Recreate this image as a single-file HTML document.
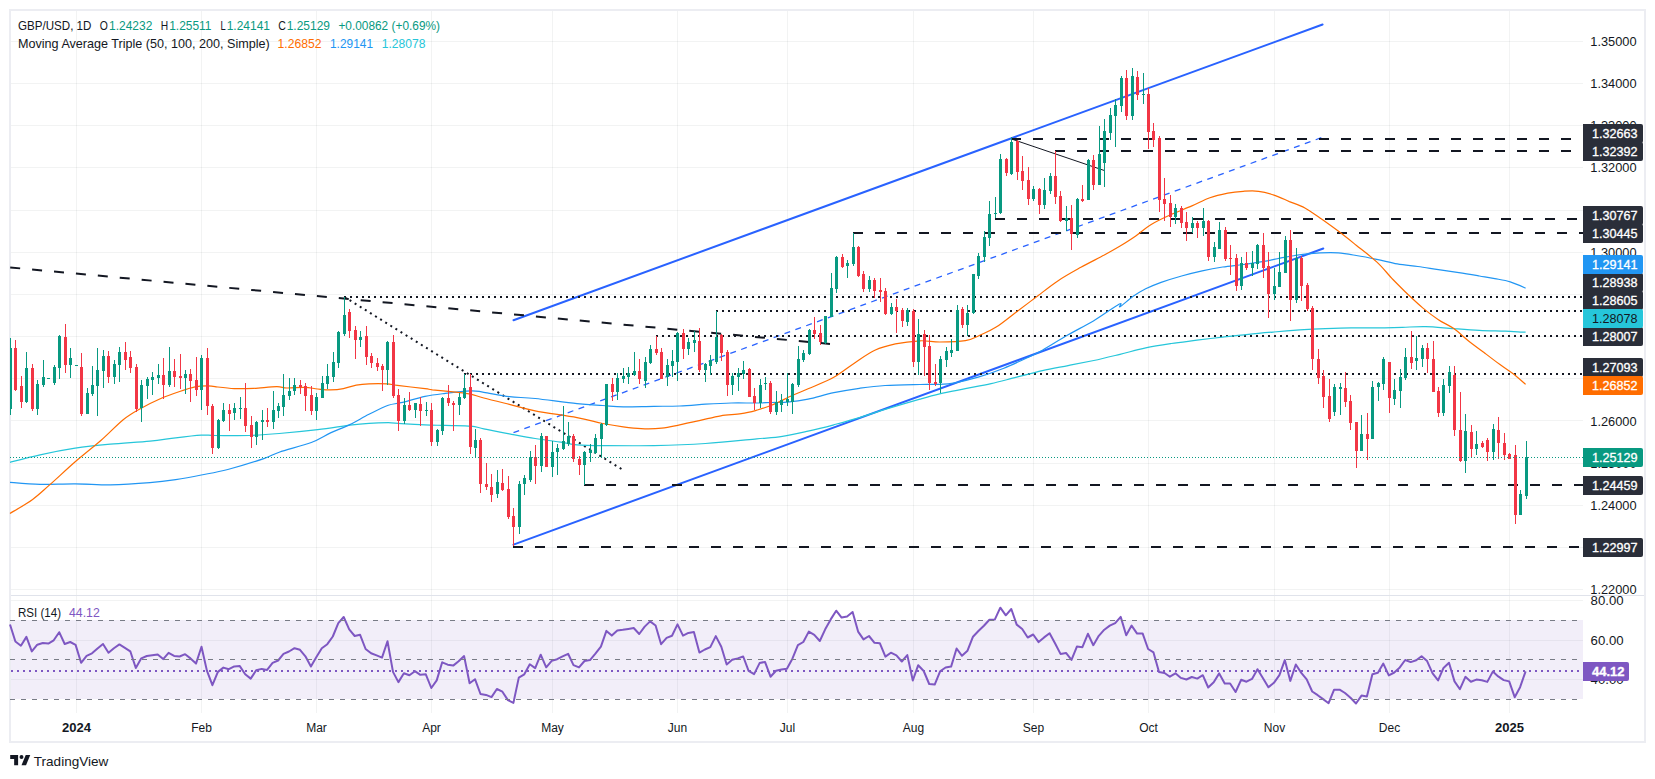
<!DOCTYPE html>
<html><head><meta charset="utf-8"><title>GBP/USD 1D</title>
<style>html,body{margin:0;padding:0;background:#fff;}svg{display:block}</style></head>
<body><svg width="1655" height="779" viewBox="0 0 1655 779"><g fill="#2a2e39" fill-opacity="0.06" shape-rendering="crispEdges"><rect x="11" y="41" width="1572" height="1"/><rect x="11" y="83" width="1572" height="1"/><rect x="11" y="125" width="1572" height="1"/><rect x="11" y="167" width="1572" height="1"/><rect x="11" y="210" width="1572" height="1"/><rect x="11" y="252" width="1572" height="1"/><rect x="11" y="294" width="1572" height="1"/><rect x="11" y="336" width="1572" height="1"/><rect x="11" y="378" width="1572" height="1"/><rect x="11" y="420" width="1572" height="1"/><rect x="11" y="463" width="1572" height="1"/><rect x="11" y="505" width="1572" height="1"/><rect x="11" y="547" width="1572" height="1"/><rect x="11" y="589" width="1572" height="1"/><rect x="11" y="600" width="1572" height="1"/><rect x="11" y="640" width="1572" height="1"/><rect x="11" y="679" width="1572" height="1"/><rect x="76" y="11" width="1" height="702"/><rect x="201" y="11" width="1" height="702"/><rect x="316" y="11" width="1" height="702"/><rect x="431" y="11" width="1" height="702"/><rect x="552" y="11" width="1" height="702"/><rect x="677" y="11" width="1" height="702"/><rect x="787" y="11" width="1" height="702"/><rect x="913" y="11" width="1" height="702"/><rect x="1033" y="11" width="1" height="702"/><rect x="1148" y="11" width="1" height="702"/><rect x="1274" y="11" width="1" height="702"/><rect x="1389" y="11" width="1" height="702"/><rect x="1509" y="11" width="1" height="702"/></g>
<path d="M9 9H1646V743H9Z M11 11V741H1644V11Z" fill="#ecedf2" fill-rule="evenodd" shape-rendering="crispEdges"/>
<rect x="11" y="620" width="1572" height="79" fill="#7e57c2" fill-opacity="0.1"/>
<line x1="513.5" y1="544.6" x2="1323.3" y2="248.5" stroke="#2962ff" stroke-width="2" stroke-linecap="round"/>
<line x1="513.5" y1="320.2" x2="1322.6" y2="24.5" stroke="#2962ff" stroke-width="2" stroke-linecap="round"/>
<line x1="513.5" y1="432.6" x2="1321.3" y2="137.7" stroke="#2962ff" stroke-width="1.3" stroke-dasharray="6 5.54" />
<line x1="-11.7" y1="265.4" x2="830.0" y2="343.9" stroke="#131722" stroke-width="2" stroke-dasharray="10 12" />
<line x1="1011.5" y1="139.0" x2="1104.3" y2="170.5" stroke="#131722" stroke-width="1" />
<line x1="344.0" y1="297.0" x2="1583.0" y2="297.0" stroke="#131722" stroke-width="2" stroke-dasharray="2 4" shape-rendering="crispEdges"/>
<line x1="716.0" y1="311.0" x2="1583.0" y2="311.0" stroke="#131722" stroke-width="2" stroke-dasharray="2 4" shape-rendering="crispEdges"/>
<line x1="656.0" y1="336.0" x2="1583.0" y2="336.0" stroke="#131722" stroke-width="2" stroke-dasharray="2 4" shape-rendering="crispEdges"/>
<line x1="464.0" y1="374.0" x2="1583.0" y2="374.0" stroke="#131722" stroke-width="2" stroke-dasharray="2 4" shape-rendering="crispEdges"/>
<line x1="344.5" y1="297.0" x2="621.9" y2="469.3" stroke="#131722" stroke-width="2" stroke-dasharray="2 4" />
<line x1="1011.0" y1="139.0" x2="1583.0" y2="139.0" stroke="#131722" stroke-width="2" stroke-dasharray="10 12" shape-rendering="crispEdges"/>
<line x1="1055.0" y1="151.0" x2="1583.0" y2="151.0" stroke="#131722" stroke-width="2" stroke-dasharray="10 12" shape-rendering="crispEdges"/>
<line x1="995.0" y1="219.0" x2="1583.0" y2="219.0" stroke="#131722" stroke-width="2" stroke-dasharray="10 12" shape-rendering="crispEdges"/>
<line x1="853.0" y1="233.0" x2="1583.0" y2="233.0" stroke="#131722" stroke-width="2" stroke-dasharray="10 12" shape-rendering="crispEdges"/>
<line x1="584.0" y1="485.0" x2="1583.0" y2="485.0" stroke="#131722" stroke-width="2" stroke-dasharray="10 12" shape-rendering="crispEdges"/>
<line x1="513.0" y1="547.0" x2="1583.0" y2="547.0" stroke="#131722" stroke-width="2" stroke-dasharray="10 12" shape-rendering="crispEdges"/>
<path d="M10.0 462.3C15.0 461.0 29.3 457.1 40.1 454.8C51.0 452.4 63.5 450.0 75.2 448.2C86.9 446.5 97.9 445.4 110.3 444.2C122.8 443.0 139.1 442.2 150.0 441.1C160.9 440.0 167.1 438.8 175.7 437.8C184.2 436.8 194.8 435.6 201.3 435.2C207.9 434.8 206.9 435.4 215.0 435.5C223.1 435.5 239.0 435.8 249.7 435.5C260.4 435.1 267.8 434.5 279.2 433.5C290.5 432.6 305.9 431.1 317.7 429.7C329.5 428.3 341.2 426.3 349.8 425.2C358.3 424.1 362.6 423.7 369.0 423.3C375.5 422.8 383.0 422.6 388.3 422.6C393.6 422.7 395.0 423.3 401.1 423.7C407.3 424.0 417.7 424.6 425.0 424.9C432.4 425.2 437.6 425.2 445.3 425.4C452.9 425.7 464.5 425.7 470.9 426.2C477.3 426.8 477.3 427.5 483.8 428.8C490.2 430.1 500.9 432.3 509.4 433.9C518.0 435.5 526.6 437.2 535.1 438.5C543.7 439.9 553.8 441.1 560.8 442.1C567.8 443.2 570.0 444.2 577.0 444.8C584.0 445.4 589.9 445.5 602.7 445.6C615.5 445.7 636.9 445.9 654.0 445.6C671.2 445.2 688.3 444.6 705.4 443.5C722.5 442.4 743.9 440.1 756.7 438.9C769.6 437.7 773.9 437.6 782.4 436.3C791.0 435.1 799.5 433.1 808.1 431.2C816.6 429.3 825.2 427.1 833.8 424.8C842.3 422.5 850.9 420.2 859.4 417.6C868.0 415.0 875.0 412.5 885.1 409.4C895.2 406.3 910.9 401.7 920.0 399.1C929.1 396.5 932.2 395.6 939.7 393.8C947.3 392.1 956.8 390.4 965.4 388.7C973.9 387.0 982.5 385.5 991.1 383.6C999.6 381.6 1008.2 379.3 1016.7 377.2C1025.3 375.0 1033.9 372.7 1042.4 370.7C1051.0 368.8 1059.5 367.3 1068.1 365.6C1076.6 363.9 1085.1 362.3 1093.8 360.5C1102.4 358.6 1111.3 356.4 1120.0 354.3C1128.7 352.2 1137.1 349.7 1145.7 347.9C1154.2 346.1 1162.8 344.8 1171.3 343.5C1179.9 342.2 1188.5 341.3 1197.0 340.2C1205.6 339.1 1214.1 338.1 1222.7 337.1C1231.3 336.1 1239.8 335.1 1248.4 334.3C1256.9 333.4 1265.5 332.7 1274.0 332.0C1282.6 331.2 1291.2 330.5 1299.7 329.9C1308.3 329.4 1316.8 329.0 1325.4 328.6C1333.9 328.3 1342.5 328.0 1351.1 327.9C1359.6 327.7 1368.2 328.0 1376.7 327.9C1385.3 327.8 1394.3 327.6 1402.4 327.4C1410.5 327.1 1417.0 326.4 1425.5 326.6C1434.1 326.8 1444.8 328.0 1453.8 328.6C1462.7 329.3 1470.9 330.0 1479.4 330.4C1488.0 330.9 1497.4 330.9 1505.1 331.2C1512.8 331.5 1522.2 332.1 1525.6 332.2" fill="none" stroke="#26c6da" stroke-width="1.2"/>
<path d="M10.0 482.3C15.0 482.7 29.3 484.1 40.1 484.4C51.0 484.6 63.5 483.8 75.2 483.9C86.9 483.9 97.9 485.0 110.3 484.9C122.8 484.7 139.1 483.6 150.0 482.7C160.9 481.8 167.1 480.9 175.7 479.6C184.2 478.3 192.7 476.7 201.3 475.0C210.0 473.3 217.4 472.2 227.8 469.5C238.2 466.8 255.2 461.5 263.8 458.6C272.3 455.7 271.3 454.8 279.2 452.2C287.1 449.5 302.7 445.7 311.3 442.5C319.8 439.3 324.1 435.9 330.5 432.9C337.0 429.9 343.4 427.7 349.8 424.6C356.2 421.5 362.6 417.5 369.0 414.3C375.5 411.1 383.0 407.2 388.3 405.3C393.6 403.4 395.0 404.2 401.1 402.7C407.3 401.2 417.7 397.9 425.0 396.3C432.4 394.8 437.6 394.3 445.3 393.4C452.9 392.4 464.5 391.0 470.9 390.8C477.3 390.6 477.3 391.3 483.8 392.3C490.2 393.3 500.9 395.7 509.4 396.7C518.0 397.7 523.8 397.3 535.1 398.5C546.4 399.7 565.8 402.6 577.0 403.7C588.3 404.9 595.0 405.0 602.7 405.5C610.4 406.0 614.7 406.7 623.2 406.8C631.8 406.9 644.6 406.4 654.0 406.3C663.5 406.2 671.2 406.4 679.7 406.0C688.3 405.7 696.8 404.8 705.4 404.2C713.9 403.7 722.5 403.2 731.1 403.0C739.6 402.8 749.9 403.1 756.7 403.0C763.6 402.9 767.1 402.6 772.1 402.5C777.2 402.3 781.3 402.8 787.3 402.2C793.3 401.6 800.3 400.7 808.1 399.1C815.8 397.5 825.2 394.5 833.8 392.7C842.3 390.9 850.9 389.5 859.4 388.3C868.0 387.1 875.0 386.1 885.1 385.5C895.2 384.9 910.9 384.7 920.0 384.5C929.1 384.3 933.9 384.6 939.7 384.3C945.6 384.1 948.7 384.0 955.1 382.8C961.5 381.6 970.1 379.6 978.2 377.2C986.4 374.7 995.3 371.6 1003.9 368.2C1012.5 364.7 1023.2 359.6 1029.6 356.6C1036.0 353.6 1036.0 353.8 1042.4 350.2C1048.8 346.6 1059.5 339.7 1068.1 334.8C1076.6 329.9 1085.2 325.8 1093.8 320.7C1102.3 315.5 1115.1 306.3 1119.4 304.0C1123.8 301.7 1117.8 308.1 1120.0 306.8C1122.2 305.6 1128.6 299.5 1132.8 296.5C1137.1 293.6 1141.0 291.2 1145.7 288.8C1150.4 286.5 1155.1 284.6 1161.1 282.4C1167.1 280.3 1174.8 277.9 1181.6 276.0C1188.5 274.1 1195.3 272.4 1202.2 270.9C1209.0 269.4 1215.8 268.1 1222.7 267.0C1229.5 266.0 1236.4 265.4 1243.2 264.5C1250.1 263.5 1256.9 262.6 1263.8 261.4C1270.6 260.2 1277.5 258.5 1284.3 257.3C1291.2 256.1 1298.9 254.9 1304.9 254.2C1310.8 253.5 1314.7 253.1 1320.3 252.9C1325.8 252.7 1332.2 252.5 1338.2 252.9C1344.2 253.3 1349.8 254.4 1356.2 255.5C1362.6 256.5 1369.9 257.9 1376.7 259.3C1383.6 260.7 1390.4 262.7 1397.3 263.9C1404.1 265.1 1411.0 265.6 1417.8 266.5C1424.7 267.4 1431.5 268.6 1438.4 269.6C1445.2 270.6 1452.0 271.6 1458.9 272.7C1465.7 273.7 1473.4 275.0 1479.4 276.0C1485.4 277.0 1489.7 277.6 1494.8 278.6C1500.0 279.6 1505.1 280.3 1510.2 281.9C1515.4 283.5 1523.1 287.0 1525.6 288.1" fill="none" stroke="#2196f3" stroke-width="1.2"/>
<path d="M10.0 513.4C13.8 511.1 25.9 504.2 32.6 499.4C39.3 494.6 43.0 490.6 50.2 484.4C57.3 478.1 66.7 469.2 75.2 461.8C83.8 454.4 93.4 447.0 101.4 440.0C109.4 433.0 116.6 425.0 123.2 419.7C129.9 414.4 135.2 411.6 141.2 408.2C147.2 404.7 152.8 402.0 159.2 399.2C165.6 396.4 173.7 393.5 179.7 391.5C185.7 389.4 190.4 387.8 195.1 386.9C199.8 385.9 204.6 385.9 208.0 385.8C211.3 385.8 210.6 386.2 215.0 386.7C219.4 387.2 227.8 388.3 234.3 388.6C240.7 388.9 246.5 388.7 253.5 388.4C260.6 388.0 271.1 386.8 276.6 386.7C282.2 386.6 282.2 387.9 286.9 388.0C291.6 388.1 299.7 387.2 304.9 387.3C310.0 387.5 313.4 388.6 317.7 389.0C322.0 389.4 326.3 390.0 330.5 389.9C334.8 389.8 339.1 389.4 343.4 388.6C347.6 387.8 351.9 385.9 356.2 385.1C360.5 384.4 363.9 384.1 369.0 383.9C374.2 383.6 382.3 383.6 387.0 383.9C391.7 384.1 391.0 384.6 397.3 385.4C403.6 386.2 419.2 387.9 425.0 388.6C430.9 389.3 426.9 389.1 432.4 389.8C437.9 390.4 451.7 391.6 458.1 392.3C464.5 393.1 466.6 393.2 470.9 394.1C475.2 395.1 477.3 396.3 483.8 398.0C490.2 399.7 500.9 402.3 509.4 404.4C518.0 406.5 523.8 408.6 535.1 410.8C546.4 413.0 565.8 415.5 577.0 417.6C588.3 419.7 595.0 422.0 602.7 423.5C610.4 425.0 616.8 426.0 623.2 426.8C629.7 427.7 634.8 428.4 641.2 428.6C647.6 428.9 655.3 428.8 661.7 428.1C668.2 427.5 673.3 426.1 679.7 424.8C686.1 423.5 693.4 421.9 700.3 420.4C707.1 418.9 713.9 416.9 720.8 415.8C727.6 414.7 735.3 414.7 741.3 413.7C747.3 412.8 751.6 411.6 756.7 410.2C761.9 408.7 766.2 407.5 772.1 405.0C778.1 402.5 786.7 398.0 792.7 395.3C798.7 392.6 801.2 391.8 808.1 388.8C814.9 385.8 826.1 381.6 833.8 377.3C841.5 373.0 847.5 367.7 854.3 363.2C861.1 358.7 868.0 353.5 874.8 350.3C881.7 347.1 887.8 345.5 895.4 343.9C902.9 342.3 912.6 341.2 920.0 340.8C927.4 340.5 932.2 342.0 939.7 342.0C947.3 342.0 958.5 341.9 965.4 340.7C972.2 339.5 975.7 337.1 980.8 334.8C985.9 332.5 990.2 330.9 996.2 327.1C1002.2 323.2 1009.9 316.8 1016.7 311.7C1023.6 306.5 1030.4 301.4 1037.3 296.3C1044.1 291.1 1050.5 285.7 1057.8 280.9C1065.1 276.0 1073.2 271.6 1080.9 267.3C1088.7 263.0 1097.8 258.5 1104.3 255.0C1110.8 251.5 1114.5 249.4 1119.7 246.3C1124.9 243.1 1130.2 239.8 1135.4 236.2C1140.6 232.6 1144.8 228.3 1150.8 224.7C1156.8 221.0 1164.5 217.5 1171.3 214.4C1178.2 211.3 1185.5 208.7 1191.9 205.9C1198.3 203.1 1203.9 199.8 1209.9 197.7C1215.8 195.6 1222.3 194.2 1227.8 193.1C1233.4 192.0 1238.1 191.6 1243.2 191.3C1248.4 191.0 1253.5 190.6 1258.6 191.3C1263.8 191.9 1268.9 193.4 1274.0 195.1C1279.2 196.8 1284.3 199.4 1289.4 201.6C1294.6 203.7 1299.7 205.2 1304.9 208.0C1310.0 210.8 1314.7 214.4 1320.3 218.2C1325.8 222.1 1332.2 226.6 1338.2 231.1C1344.2 235.6 1349.8 240.1 1356.2 245.2C1362.6 250.3 1370.7 256.3 1376.7 261.9C1382.7 267.4 1387.0 273.2 1392.1 278.6C1397.3 283.9 1402.4 289.1 1407.5 294.0C1412.7 298.9 1417.8 303.8 1423.0 308.1C1428.1 312.4 1433.2 316.2 1438.4 319.7C1443.5 323.1 1448.6 325.0 1453.8 328.6C1458.9 332.3 1464.0 337.4 1469.2 341.5C1474.3 345.5 1479.4 349.2 1484.6 353.0C1489.7 356.9 1495.3 361.2 1500.0 364.6C1504.7 368.0 1508.5 370.3 1512.8 373.6C1517.1 376.9 1523.5 382.6 1525.6 384.4" fill="none" stroke="#ff6d00" stroke-width="1.2"/>
<g fill="#089981" shape-rendering="crispEdges"><rect x="10" y="338" width="1" height="77"/><rect x="10" y="348" width="2" height="61"/><rect x="26" y="352" width="1" height="51"/><rect x="25" y="368" width="3" height="34"/><rect x="37" y="380" width="1" height="35"/><rect x="36" y="384" width="3" height="25"/><rect x="43" y="360" width="1" height="27"/><rect x="42" y="377" width="3" height="8"/><rect x="48" y="378" width="1" height="1"/><rect x="47" y="378" width="3" height="1"/><rect x="54" y="365" width="1" height="20"/><rect x="53" y="367" width="3" height="16"/><rect x="59" y="335" width="1" height="44"/><rect x="58" y="336" width="3" height="32"/><rect x="70" y="348" width="1" height="30"/><rect x="69" y="358" width="3" height="7"/><rect x="76" y="365" width="1" height="1"/><rect x="75" y="365" width="3" height="1"/><rect x="87" y="388" width="1" height="26"/><rect x="86" y="393" width="3" height="21"/><rect x="92" y="366" width="1" height="30"/><rect x="91" y="385" width="3" height="9"/><rect x="97" y="348" width="1" height="68"/><rect x="96" y="370" width="3" height="16"/><rect x="103" y="350" width="1" height="38"/><rect x="102" y="356" width="3" height="15"/><rect x="114" y="360" width="1" height="24"/><rect x="113" y="364" width="3" height="13"/><rect x="119" y="347" width="1" height="35"/><rect x="118" y="352" width="3" height="13"/><rect x="141" y="380" width="1" height="42"/><rect x="140" y="385" width="3" height="23"/><rect x="147" y="377" width="1" height="22"/><rect x="146" y="379" width="3" height="7"/><rect x="152" y="372" width="1" height="23"/><rect x="151" y="377" width="3" height="3"/><rect x="158" y="364" width="1" height="20"/><rect x="157" y="375" width="3" height="3"/><rect x="169" y="347" width="1" height="40"/><rect x="168" y="371" width="3" height="14"/><rect x="185" y="370" width="1" height="24"/><rect x="184" y="374" width="3" height="4"/><rect x="201" y="355" width="1" height="55"/><rect x="200" y="358" width="3" height="32"/><rect x="218" y="419" width="1" height="30"/><rect x="217" y="420" width="3" height="28"/><rect x="223" y="403" width="1" height="19"/><rect x="222" y="410" width="3" height="11"/><rect x="234" y="403" width="1" height="17"/><rect x="233" y="408" width="3" height="5"/><rect x="240" y="397" width="1" height="22"/><rect x="239" y="408" width="3" height="1"/><rect x="256" y="421" width="1" height="24"/><rect x="255" y="422" width="3" height="15"/><rect x="262" y="410" width="1" height="30"/><rect x="261" y="420" width="3" height="2"/><rect x="273" y="391" width="1" height="38"/><rect x="272" y="410" width="3" height="12"/><rect x="278" y="403" width="1" height="15"/><rect x="277" y="406" width="3" height="5"/><rect x="283" y="374" width="1" height="42"/><rect x="282" y="395" width="3" height="12"/><rect x="289" y="378" width="1" height="22"/><rect x="288" y="391" width="3" height="5"/><rect x="294" y="378" width="1" height="17"/><rect x="293" y="385" width="3" height="6"/><rect x="316" y="393" width="1" height="27"/><rect x="315" y="397" width="3" height="14"/><rect x="322" y="376" width="1" height="22"/><rect x="321" y="383" width="3" height="15"/><rect x="327" y="364" width="1" height="25"/><rect x="326" y="376" width="3" height="8"/><rect x="333" y="352" width="1" height="30"/><rect x="332" y="362" width="3" height="15"/><rect x="338" y="331" width="1" height="37"/><rect x="337" y="332" width="3" height="31"/><rect x="344" y="297" width="1" height="39"/><rect x="343" y="315" width="3" height="19"/><rect x="360" y="331" width="1" height="16"/><rect x="359" y="337" width="3" height="3"/><rect x="387" y="341" width="1" height="44"/><rect x="386" y="342" width="3" height="28"/><rect x="404" y="398" width="1" height="26"/><rect x="403" y="405" width="3" height="16"/><rect x="415" y="403" width="1" height="15"/><rect x="414" y="403" width="3" height="7"/><rect x="426" y="402" width="1" height="14"/><rect x="425" y="410" width="3" height="1"/><rect x="437" y="429" width="1" height="17"/><rect x="436" y="430" width="3" height="12"/><rect x="442" y="397" width="1" height="38"/><rect x="441" y="398" width="3" height="33"/><rect x="459" y="393" width="1" height="22"/><rect x="458" y="397" width="3" height="8"/><rect x="464" y="374" width="1" height="25"/><rect x="463" y="388" width="3" height="10"/><rect x="475" y="429" width="1" height="28"/><rect x="474" y="440" width="3" height="8"/><rect x="497" y="470" width="1" height="28"/><rect x="496" y="482" width="3" height="12"/><rect x="519" y="481" width="1" height="53"/><rect x="518" y="484" width="3" height="43"/><rect x="524" y="475" width="1" height="20"/><rect x="523" y="478" width="3" height="6"/><rect x="530" y="451" width="1" height="31"/><rect x="529" y="457" width="3" height="23"/><rect x="541" y="433" width="1" height="39"/><rect x="540" y="436" width="3" height="30"/><rect x="552" y="441" width="1" height="36"/><rect x="551" y="452" width="3" height="15"/><rect x="557" y="444" width="1" height="31"/><rect x="556" y="448" width="3" height="4"/><rect x="563" y="406" width="1" height="44"/><rect x="562" y="441" width="3" height="8"/><rect x="568" y="422" width="1" height="24"/><rect x="567" y="436" width="3" height="8"/><rect x="584" y="451" width="1" height="34"/><rect x="583" y="452" width="3" height="13"/><rect x="590" y="444" width="1" height="18"/><rect x="589" y="450" width="3" height="3"/><rect x="595" y="434" width="1" height="20"/><rect x="594" y="438" width="3" height="15"/><rect x="601" y="423" width="1" height="35"/><rect x="600" y="424" width="3" height="15"/><rect x="606" y="384" width="1" height="42"/><rect x="605" y="384" width="3" height="41"/><rect x="617" y="373" width="1" height="27"/><rect x="616" y="378" width="3" height="14"/><rect x="623" y="368" width="1" height="15"/><rect x="622" y="376" width="3" height="3"/><rect x="628" y="367" width="1" height="17"/><rect x="627" y="373" width="3" height="4"/><rect x="634" y="352" width="1" height="24"/><rect x="633" y="371" width="3" height="4"/><rect x="645" y="357" width="1" height="31"/><rect x="644" y="362" width="3" height="19"/><rect x="650" y="345" width="1" height="19"/><rect x="649" y="349" width="3" height="14"/><rect x="667" y="359" width="1" height="27"/><rect x="666" y="365" width="3" height="12"/><rect x="672" y="350" width="1" height="27"/><rect x="671" y="361" width="3" height="5"/><rect x="677" y="332" width="1" height="49"/><rect x="676" y="333" width="3" height="29"/><rect x="688" y="338" width="1" height="17"/><rect x="687" y="342" width="3" height="7"/><rect x="694" y="331" width="1" height="21"/><rect x="693" y="340" width="3" height="3"/><rect x="705" y="363" width="1" height="19"/><rect x="704" y="364" width="3" height="6"/><rect x="710" y="355" width="1" height="20"/><rect x="709" y="360" width="3" height="6"/><rect x="716" y="311" width="1" height="53"/><rect x="715" y="337" width="3" height="25"/><rect x="732" y="373" width="1" height="22"/><rect x="731" y="376" width="3" height="9"/><rect x="738" y="368" width="1" height="23"/><rect x="737" y="373" width="3" height="4"/><rect x="743" y="361" width="1" height="18"/><rect x="742" y="370" width="3" height="4"/><rect x="760" y="379" width="1" height="29"/><rect x="759" y="385" width="3" height="18"/><rect x="765" y="377" width="1" height="13"/><rect x="764" y="383" width="3" height="1"/><rect x="776" y="391" width="1" height="24"/><rect x="775" y="402" width="3" height="10"/><rect x="781" y="394" width="1" height="18"/><rect x="780" y="400" width="3" height="5"/><rect x="787" y="373" width="1" height="33"/><rect x="786" y="399" width="3" height="3"/><rect x="792" y="383" width="1" height="31"/><rect x="791" y="384" width="3" height="18"/><rect x="798" y="346" width="1" height="41"/><rect x="797" y="359" width="3" height="26"/><rect x="803" y="350" width="1" height="12"/><rect x="802" y="353" width="3" height="7"/><rect x="809" y="329" width="1" height="26"/><rect x="808" y="330" width="3" height="24"/><rect x="825" y="316" width="1" height="28"/><rect x="824" y="316" width="3" height="27"/><rect x="831" y="273" width="1" height="44"/><rect x="830" y="288" width="3" height="29"/><rect x="836" y="256" width="1" height="37"/><rect x="835" y="257" width="3" height="32"/><rect x="847" y="260" width="1" height="18"/><rect x="846" y="263" width="3" height="3"/><rect x="853" y="233" width="1" height="33"/><rect x="852" y="247" width="3" height="17"/><rect x="869" y="276" width="1" height="16"/><rect x="868" y="280" width="3" height="9"/><rect x="891" y="303" width="1" height="12"/><rect x="890" y="307" width="3" height="7"/><rect x="907" y="308" width="1" height="18"/><rect x="906" y="310" width="3" height="12"/><rect x="918" y="319" width="1" height="56"/><rect x="917" y="334" width="3" height="28"/><rect x="940" y="356" width="1" height="37"/><rect x="939" y="359" width="3" height="24"/><rect x="946" y="347" width="1" height="20"/><rect x="945" y="351" width="3" height="9"/><rect x="951" y="339" width="1" height="18"/><rect x="950" y="350" width="3" height="3"/><rect x="957" y="305" width="1" height="46"/><rect x="956" y="310" width="3" height="41"/><rect x="967" y="305" width="1" height="31"/><rect x="966" y="313" width="3" height="12"/><rect x="973" y="274" width="1" height="40"/><rect x="972" y="274" width="3" height="39"/><rect x="978" y="253" width="1" height="26"/><rect x="977" y="256" width="3" height="20"/><rect x="984" y="231" width="1" height="31"/><rect x="983" y="237" width="3" height="20"/><rect x="989" y="201" width="1" height="45"/><rect x="988" y="214" width="3" height="24"/><rect x="995" y="197" width="1" height="21"/><rect x="994" y="213" width="3" height="1"/><rect x="1000" y="154" width="1" height="60"/><rect x="999" y="159" width="3" height="54"/><rect x="1011" y="137" width="1" height="38"/><rect x="1010" y="142" width="3" height="32"/><rect x="1033" y="186" width="1" height="15"/><rect x="1032" y="189" width="3" height="10"/><rect x="1044" y="178" width="1" height="31"/><rect x="1043" y="190" width="3" height="15"/><rect x="1050" y="173" width="1" height="21"/><rect x="1049" y="176" width="3" height="15"/><rect x="1066" y="206" width="1" height="25"/><rect x="1065" y="218" width="3" height="3"/><rect x="1077" y="198" width="1" height="40"/><rect x="1076" y="199" width="3" height="36"/><rect x="1088" y="159" width="1" height="41"/><rect x="1087" y="160" width="3" height="40"/><rect x="1099" y="126" width="1" height="59"/><rect x="1098" y="154" width="3" height="31"/><rect x="1104" y="119" width="1" height="68"/><rect x="1103" y="131" width="3" height="32"/><rect x="1110" y="108" width="1" height="32"/><rect x="1109" y="115" width="3" height="18"/><rect x="1115" y="99" width="1" height="48"/><rect x="1114" y="105" width="3" height="11"/><rect x="1121" y="76" width="1" height="36"/><rect x="1120" y="78" width="3" height="28"/><rect x="1132" y="68" width="1" height="52"/><rect x="1131" y="76" width="3" height="40"/><rect x="1143" y="73" width="1" height="31"/><rect x="1142" y="94" width="3" height="1"/><rect x="1175" y="204" width="1" height="20"/><rect x="1174" y="208" width="3" height="9"/><rect x="1192" y="217" width="1" height="16"/><rect x="1191" y="223" width="3" height="5"/><rect x="1203" y="208" width="1" height="28"/><rect x="1202" y="221" width="3" height="7"/><rect x="1214" y="242" width="1" height="20"/><rect x="1213" y="247" width="3" height="10"/><rect x="1219" y="222" width="1" height="27"/><rect x="1218" y="230" width="3" height="19"/><rect x="1241" y="257" width="1" height="33"/><rect x="1240" y="263" width="3" height="23"/><rect x="1252" y="251" width="1" height="25"/><rect x="1251" y="263" width="3" height="5"/><rect x="1257" y="244" width="1" height="25"/><rect x="1256" y="245" width="3" height="19"/><rect x="1274" y="268" width="1" height="32"/><rect x="1273" y="286" width="3" height="8"/><rect x="1279" y="252" width="1" height="35"/><rect x="1278" y="272" width="3" height="15"/><rect x="1285" y="236" width="1" height="37"/><rect x="1284" y="240" width="3" height="33"/><rect x="1296" y="248" width="1" height="55"/><rect x="1295" y="258" width="3" height="42"/><rect x="1334" y="384" width="1" height="32"/><rect x="1333" y="387" width="3" height="25"/><rect x="1340" y="383" width="1" height="32"/><rect x="1339" y="387" width="3" height="2"/><rect x="1361" y="415" width="1" height="36"/><rect x="1360" y="434" width="3" height="17"/><rect x="1372" y="381" width="1" height="58"/><rect x="1371" y="387" width="3" height="52"/><rect x="1378" y="382" width="1" height="19"/><rect x="1377" y="383" width="3" height="4"/><rect x="1383" y="357" width="1" height="33"/><rect x="1382" y="359" width="3" height="25"/><rect x="1394" y="379" width="1" height="26"/><rect x="1393" y="390" width="3" height="9"/><rect x="1400" y="369" width="1" height="39"/><rect x="1399" y="377" width="3" height="14"/><rect x="1405" y="348" width="1" height="32"/><rect x="1404" y="357" width="3" height="21"/><rect x="1416" y="336" width="1" height="34"/><rect x="1415" y="358" width="3" height="3"/><rect x="1422" y="345" width="1" height="22"/><rect x="1421" y="348" width="3" height="11"/><rect x="1443" y="379" width="1" height="37"/><rect x="1442" y="385" width="3" height="28"/><rect x="1449" y="366" width="1" height="27"/><rect x="1448" y="372" width="3" height="14"/><rect x="1465" y="414" width="1" height="59"/><rect x="1464" y="431" width="3" height="30"/><rect x="1476" y="431" width="1" height="24"/><rect x="1475" y="444" width="3" height="5"/><rect x="1493" y="424" width="1" height="36"/><rect x="1492" y="429" width="3" height="23"/><rect x="1520" y="490" width="1" height="25"/><rect x="1519" y="494" width="3" height="21"/><rect x="1526" y="441" width="1" height="58"/><rect x="1525" y="457" width="3" height="39"/></g>
<g fill="#f23645" shape-rendering="crispEdges"><rect x="15" y="340" width="1" height="51"/><rect x="14" y="348" width="3" height="42"/><rect x="21" y="376" width="1" height="32"/><rect x="20" y="386" width="3" height="16"/><rect x="32" y="364" width="1" height="47"/><rect x="31" y="368" width="3" height="41"/><rect x="65" y="324" width="1" height="49"/><rect x="64" y="337" width="3" height="28"/><rect x="81" y="353" width="1" height="63"/><rect x="80" y="367" width="3" height="47"/><rect x="108" y="351" width="1" height="32"/><rect x="107" y="356" width="3" height="21"/><rect x="125" y="342" width="1" height="28"/><rect x="124" y="352" width="3" height="8"/><rect x="130" y="351" width="1" height="22"/><rect x="129" y="357" width="3" height="11"/><rect x="136" y="364" width="1" height="48"/><rect x="135" y="367" width="3" height="42"/><rect x="163" y="358" width="1" height="41"/><rect x="162" y="375" width="3" height="10"/><rect x="174" y="359" width="1" height="28"/><rect x="173" y="371" width="3" height="6"/><rect x="180" y="354" width="1" height="35"/><rect x="179" y="376" width="3" height="2"/><rect x="190" y="369" width="1" height="33"/><rect x="189" y="374" width="3" height="7"/><rect x="196" y="357" width="1" height="39"/><rect x="195" y="380" width="3" height="10"/><rect x="207" y="348" width="1" height="67"/><rect x="206" y="358" width="3" height="48"/><rect x="212" y="404" width="1" height="50"/><rect x="211" y="406" width="3" height="42"/><rect x="229" y="404" width="1" height="27"/><rect x="228" y="410" width="3" height="4"/><rect x="245" y="383" width="1" height="49"/><rect x="244" y="408" width="3" height="18"/><rect x="251" y="416" width="1" height="32"/><rect x="250" y="425" width="3" height="12"/><rect x="267" y="408" width="1" height="19"/><rect x="266" y="420" width="3" height="2"/><rect x="300" y="380" width="1" height="14"/><rect x="299" y="385" width="3" height="2"/><rect x="305" y="383" width="1" height="28"/><rect x="304" y="386" width="3" height="10"/><rect x="311" y="386" width="1" height="29"/><rect x="310" y="395" width="3" height="16"/><rect x="349" y="309" width="1" height="29"/><rect x="348" y="312" width="3" height="19"/><rect x="355" y="326" width="1" height="33"/><rect x="354" y="330" width="3" height="10"/><rect x="366" y="326" width="1" height="39"/><rect x="365" y="336" width="3" height="21"/><rect x="371" y="353" width="1" height="15"/><rect x="370" y="356" width="3" height="7"/><rect x="377" y="358" width="1" height="13"/><rect x="376" y="363" width="3" height="4"/><rect x="382" y="364" width="1" height="27"/><rect x="381" y="366" width="3" height="4"/><rect x="393" y="335" width="1" height="63"/><rect x="392" y="342" width="3" height="54"/><rect x="398" y="389" width="1" height="42"/><rect x="397" y="395" width="3" height="26"/><rect x="409" y="392" width="1" height="19"/><rect x="408" y="405" width="3" height="5"/><rect x="420" y="397" width="1" height="29"/><rect x="419" y="404" width="3" height="7"/><rect x="431" y="403" width="1" height="43"/><rect x="430" y="410" width="3" height="32"/><rect x="448" y="385" width="1" height="21"/><rect x="447" y="398" width="3" height="5"/><rect x="453" y="401" width="1" height="30"/><rect x="452" y="403" width="3" height="2"/><rect x="470" y="374" width="1" height="80"/><rect x="469" y="387" width="3" height="60"/><rect x="480" y="438" width="1" height="55"/><rect x="479" y="440" width="3" height="44"/><rect x="486" y="463" width="1" height="27"/><rect x="485" y="484" width="3" height="3"/><rect x="491" y="474" width="1" height="28"/><rect x="490" y="487" width="3" height="8"/><rect x="502" y="469" width="1" height="22"/><rect x="501" y="483" width="3" height="7"/><rect x="508" y="476" width="1" height="43"/><rect x="507" y="489" width="3" height="28"/><rect x="513" y="508" width="1" height="38"/><rect x="512" y="516" width="3" height="11"/><rect x="535" y="445" width="1" height="39"/><rect x="534" y="457" width="3" height="9"/><rect x="546" y="436" width="1" height="31"/><rect x="545" y="436" width="3" height="31"/><rect x="573" y="434" width="1" height="28"/><rect x="572" y="436" width="3" height="23"/><rect x="579" y="456" width="1" height="19"/><rect x="578" y="459" width="3" height="6"/><rect x="612" y="378" width="1" height="23"/><rect x="611" y="384" width="3" height="8"/><rect x="639" y="359" width="1" height="25"/><rect x="638" y="371" width="3" height="8"/><rect x="656" y="336" width="1" height="19"/><rect x="655" y="349" width="3" height="4"/><rect x="661" y="348" width="1" height="31"/><rect x="660" y="352" width="3" height="27"/><rect x="683" y="329" width="1" height="30"/><rect x="682" y="333" width="3" height="16"/><rect x="699" y="328" width="1" height="44"/><rect x="698" y="341" width="3" height="29"/><rect x="721" y="334" width="1" height="27"/><rect x="720" y="335" width="3" height="18"/><rect x="727" y="350" width="1" height="46"/><rect x="726" y="352" width="3" height="33"/><rect x="749" y="368" width="1" height="29"/><rect x="748" y="369" width="3" height="28"/><rect x="754" y="388" width="1" height="22"/><rect x="753" y="396" width="3" height="7"/><rect x="770" y="381" width="1" height="33"/><rect x="769" y="383" width="3" height="29"/><rect x="814" y="317" width="1" height="22"/><rect x="813" y="330" width="3" height="4"/><rect x="820" y="325" width="1" height="20"/><rect x="819" y="333" width="3" height="9"/><rect x="842" y="254" width="1" height="14"/><rect x="841" y="257" width="3" height="10"/><rect x="858" y="246" width="1" height="31"/><rect x="857" y="247" width="3" height="29"/><rect x="863" y="271" width="1" height="21"/><rect x="862" y="274" width="3" height="15"/><rect x="874" y="278" width="1" height="20"/><rect x="873" y="280" width="3" height="11"/><rect x="880" y="278" width="1" height="24"/><rect x="879" y="290" width="3" height="2"/><rect x="885" y="288" width="1" height="27"/><rect x="884" y="291" width="3" height="23"/><rect x="896" y="299" width="1" height="34"/><rect x="895" y="307" width="3" height="4"/><rect x="902" y="308" width="1" height="19"/><rect x="901" y="310" width="3" height="11"/><rect x="913" y="309" width="1" height="58"/><rect x="912" y="311" width="3" height="51"/><rect x="924" y="330" width="1" height="46"/><rect x="923" y="334" width="3" height="13"/><rect x="929" y="335" width="1" height="55"/><rect x="928" y="346" width="3" height="37"/><rect x="935" y="364" width="1" height="22"/><rect x="934" y="382" width="3" height="2"/><rect x="962" y="307" width="1" height="21"/><rect x="961" y="309" width="3" height="16"/><rect x="1006" y="158" width="1" height="18"/><rect x="1005" y="159" width="3" height="14"/><rect x="1017" y="140" width="1" height="40"/><rect x="1016" y="141" width="3" height="31"/><rect x="1022" y="156" width="1" height="34"/><rect x="1021" y="171" width="3" height="10"/><rect x="1028" y="167" width="1" height="38"/><rect x="1027" y="180" width="3" height="19"/><rect x="1039" y="188" width="1" height="26"/><rect x="1038" y="189" width="3" height="16"/><rect x="1055" y="151" width="1" height="53"/><rect x="1054" y="176" width="3" height="21"/><rect x="1060" y="191" width="1" height="31"/><rect x="1059" y="196" width="3" height="25"/><rect x="1071" y="205" width="1" height="45"/><rect x="1070" y="218" width="3" height="16"/><rect x="1082" y="185" width="1" height="17"/><rect x="1081" y="199" width="3" height="2"/><rect x="1093" y="155" width="1" height="35"/><rect x="1092" y="160" width="3" height="25"/><rect x="1126" y="70" width="1" height="50"/><rect x="1125" y="78" width="3" height="38"/><rect x="1137" y="71" width="1" height="29"/><rect x="1136" y="77" width="3" height="18"/><rect x="1148" y="88" width="1" height="61"/><rect x="1147" y="94" width="3" height="38"/><rect x="1153" y="123" width="1" height="24"/><rect x="1152" y="131" width="3" height="9"/><rect x="1159" y="136" width="1" height="76"/><rect x="1158" y="138" width="3" height="62"/><rect x="1164" y="178" width="1" height="43"/><rect x="1163" y="199" width="3" height="5"/><rect x="1170" y="195" width="1" height="32"/><rect x="1169" y="203" width="3" height="14"/><rect x="1181" y="206" width="1" height="22"/><rect x="1180" y="208" width="3" height="15"/><rect x="1186" y="212" width="1" height="29"/><rect x="1185" y="222" width="3" height="6"/><rect x="1197" y="221" width="1" height="17"/><rect x="1196" y="223" width="3" height="5"/><rect x="1208" y="220" width="1" height="41"/><rect x="1207" y="221" width="3" height="36"/><rect x="1225" y="227" width="1" height="34"/><rect x="1224" y="230" width="3" height="29"/><rect x="1230" y="245" width="1" height="30"/><rect x="1229" y="258" width="3" height="1"/><rect x="1236" y="254" width="1" height="37"/><rect x="1235" y="258" width="3" height="28"/><rect x="1246" y="252" width="1" height="18"/><rect x="1245" y="263" width="3" height="5"/><rect x="1263" y="233" width="1" height="45"/><rect x="1262" y="245" width="3" height="23"/><rect x="1268" y="252" width="1" height="66"/><rect x="1267" y="266" width="3" height="28"/><rect x="1290" y="230" width="1" height="91"/><rect x="1289" y="240" width="3" height="60"/><rect x="1301" y="256" width="1" height="45"/><rect x="1300" y="258" width="3" height="28"/><rect x="1307" y="283" width="1" height="28"/><rect x="1306" y="285" width="3" height="24"/><rect x="1312" y="306" width="1" height="64"/><rect x="1311" y="308" width="3" height="51"/><rect x="1318" y="349" width="1" height="35"/><rect x="1317" y="359" width="3" height="19"/><rect x="1323" y="370" width="1" height="38"/><rect x="1322" y="376" width="3" height="21"/><rect x="1329" y="379" width="1" height="43"/><rect x="1328" y="396" width="3" height="23"/><rect x="1345" y="372" width="1" height="35"/><rect x="1344" y="388" width="3" height="14"/><rect x="1350" y="395" width="1" height="35"/><rect x="1349" y="401" width="3" height="22"/><rect x="1356" y="422" width="1" height="46"/><rect x="1355" y="422" width="3" height="29"/><rect x="1367" y="413" width="1" height="47"/><rect x="1366" y="434" width="3" height="5"/><rect x="1389" y="362" width="1" height="51"/><rect x="1388" y="362" width="3" height="36"/><rect x="1411" y="331" width="1" height="38"/><rect x="1410" y="357" width="3" height="6"/><rect x="1427" y="343" width="1" height="30"/><rect x="1426" y="348" width="3" height="11"/><rect x="1433" y="341" width="1" height="51"/><rect x="1432" y="359" width="3" height="33"/><rect x="1438" y="387" width="1" height="30"/><rect x="1437" y="391" width="3" height="22"/><rect x="1454" y="366" width="1" height="70"/><rect x="1453" y="375" width="3" height="55"/><rect x="1460" y="392" width="1" height="70"/><rect x="1459" y="430" width="3" height="31"/><rect x="1471" y="425" width="1" height="33"/><rect x="1470" y="432" width="3" height="17"/><rect x="1482" y="441" width="1" height="7"/><rect x="1481" y="443" width="3" height="4"/><rect x="1487" y="438" width="1" height="23"/><rect x="1486" y="440" width="3" height="12"/><rect x="1498" y="417" width="1" height="42"/><rect x="1497" y="430" width="3" height="13"/><rect x="1504" y="433" width="1" height="27"/><rect x="1503" y="443" width="3" height="12"/><rect x="1509" y="453" width="1" height="6"/><rect x="1508" y="454" width="3" height="5"/><rect x="1515" y="445" width="1" height="79"/><rect x="1514" y="455" width="3" height="60"/></g>
<line x1="10" y1="457.5" x2="1583" y2="457.5" stroke="#089981" stroke-width="1" stroke-dasharray="1 2" shape-rendering="crispEdges"/>
<polyline points="10.0,624.5 15.4,641.5 20.9,645.7 26.4,636.9 31.8,651.4 37.3,644.7 42.8,643.0 48.3,643.6 53.7,640.3 59.2,632.2 64.7,644.0 70.2,642.0 75.6,644.9 81.1,662.8 86.6,655.8 92.0,653.3 97.5,648.5 103.0,644.0 108.5,652.7 113.9,648.2 119.4,644.4 124.9,647.8 130.3,651.3 135.8,668.0 141.3,658.3 146.8,656.0 152.2,655.3 157.7,654.5 163.2,659.1 168.6,652.9 174.1,655.9 179.6,656.5 185.1,654.2 190.5,658.4 196.0,663.6 201.5,646.7 206.9,670.6 212.4,685.2 217.9,671.9 223.4,667.6 228.8,669.2 234.3,666.4 239.8,666.1 245.2,674.2 250.7,678.6 256.2,670.3 261.7,668.9 267.1,669.9 272.6,662.8 278.1,660.5 283.5,653.9 289.0,651.5 294.5,648.2 300.0,649.8 305.4,656.3 310.9,666.5 316.4,657.0 321.8,648.3 327.3,644.2 332.8,636.5 338.3,623.1 343.7,617.0 349.2,629.4 354.7,636.0 360.1,634.8 365.6,649.0 371.1,653.2 376.6,655.4 382.0,657.6 387.5,641.3 393.0,671.9 398.4,682.1 403.9,673.2 409.4,675.2 414.9,671.2 420.3,674.8 425.8,674.3 431.3,688.0 436.7,680.4 442.2,662.3 447.7,664.7 453.2,665.6 458.6,661.2 464.1,656.1 469.6,683.2 475.0,679.2 480.5,694.0 486.0,694.9 491.5,697.1 496.9,689.0 502.4,691.7 507.9,700.1 513.4,702.9 518.8,677.6 524.3,674.3 529.8,664.3 535.2,668.1 540.7,654.7 546.2,667.3 551.7,660.9 557.1,659.2 562.6,656.4 568.1,653.8 573.5,665.1 579.0,667.4 584.5,661.0 590.0,660.1 595.4,653.7 600.9,646.6 606.4,630.9 611.8,635.6 617.3,630.5 622.8,629.8 628.3,628.9 633.7,628.0 639.2,634.0 644.7,626.6 650.1,621.4 655.6,625.5 661.1,644.2 666.6,637.9 672.0,635.8 677.5,624.4 683.0,635.6 688.4,632.9 693.9,632.0 699.4,652.6 704.9,649.5 710.3,647.1 715.8,636.1 721.3,646.7 726.7,664.5 732.2,659.8 737.7,658.4 743.2,656.5 748.6,670.9 754.1,674.1 759.6,663.1 765.0,661.9 770.5,676.7 776.0,670.7 781.5,669.5 786.9,668.7 792.4,658.7 797.9,645.2 803.3,642.0 808.8,631.6 814.3,634.8 819.8,641.0 825.2,629.3 830.7,619.4 836.2,610.7 841.6,617.6 847.1,616.5 852.6,612.0 858.1,631.6 863.5,639.4 869.0,636.0 874.5,642.8 879.9,643.3 885.4,656.6 890.9,652.7 896.4,655.3 901.8,661.5 907.3,655.1 912.8,680.5 918.2,665.2 923.7,671.0 929.2,684.0 934.7,684.6 940.1,671.3 945.6,667.5 951.1,666.6 956.6,648.5 962.0,655.8 967.5,650.7 973.0,636.7 978.4,631.0 983.9,625.7 989.4,619.7 994.9,619.4 1000.3,607.7 1005.8,615.3 1011.3,609.0 1016.7,624.6 1022.2,629.0 1027.7,637.5 1033.2,634.5 1038.6,642.1 1044.1,637.4 1049.6,633.2 1055.0,643.3 1060.5,653.9 1066.0,652.9 1071.5,659.9 1076.9,646.6 1082.4,647.2 1087.9,633.8 1093.3,645.2 1098.8,635.8 1104.3,629.7 1109.8,625.6 1115.2,623.1 1120.7,616.9 1126.2,635.3 1131.6,625.6 1137.1,633.6 1142.6,633.4 1148.1,649.0 1153.5,652.4 1159.0,671.9 1164.5,673.0 1169.9,676.7 1175.4,673.3 1180.9,677.9 1186.4,679.5 1191.8,677.0 1197.3,678.6 1202.8,675.2 1208.2,687.5 1213.7,682.3 1219.2,673.4 1224.7,683.5 1230.1,683.5 1235.6,692.0 1241.1,679.8 1246.5,681.7 1252.0,678.9 1257.5,669.2 1263.0,678.2 1268.4,687.3 1273.9,682.8 1279.4,675.2 1284.8,660.1 1290.3,680.9 1295.8,664.5 1301.3,672.9 1306.7,679.4 1312.2,691.5 1317.7,695.2 1323.1,699.1 1328.6,703.2 1334.1,689.7 1339.6,689.7 1345.0,693.0 1350.5,697.7 1356.0,703.5 1361.5,695.6 1366.9,696.6 1372.4,674.2 1377.9,672.8 1383.3,663.6 1388.8,675.4 1394.3,672.5 1399.8,667.4 1405.2,660.0 1410.7,662.1 1416.2,660.3 1421.6,656.2 1427.1,661.1 1432.6,673.4 1438.1,680.4 1443.5,667.9 1449.0,662.7 1454.5,681.4 1459.9,689.2 1465.4,676.8 1470.9,681.7 1476.4,679.6 1481.8,680.3 1487.3,681.9 1492.8,671.6 1498.2,676.4 1503.7,680.1 1509.2,681.4 1514.7,697.2 1520.1,687.2 1525.6,671.4" fill="none" stroke="#7e57c2" stroke-width="2" stroke-linejoin="round" />
<line x1="10.0" y1="620.5" x2="1583.0" y2="620.5" stroke="#787b86" stroke-width="1" stroke-dasharray="5 6" shape-rendering="crispEdges"/>
<line x1="10.0" y1="659.5" x2="1583.0" y2="659.5" stroke="#787b86" stroke-width="1" stroke-dasharray="5 6" shape-rendering="crispEdges"/>
<line x1="10.0" y1="699.5" x2="1583.0" y2="699.5" stroke="#787b86" stroke-width="1" stroke-dasharray="5 6" shape-rendering="crispEdges"/>
<line x1="11.0" y1="671.0" x2="1583.0" y2="671.0" stroke="#7e57c2" stroke-width="2" stroke-dasharray="2 4" shape-rendering="crispEdges"/>
<rect x="11" y="595" width="1633" height="1" fill="#e0e3eb" shape-rendering="crispEdges"/>
<g font-family="Liberation Sans, Arial, sans-serif">
<text x="1590.3" y="45.9" font-size="12" fill="#131722" text-anchor="start" font-weight="normal" textLength="46.3" lengthAdjust="spacingAndGlyphs">1.35000</text>
<text x="1590.3" y="88.1" font-size="12" fill="#131722" text-anchor="start" font-weight="normal" textLength="46.3" lengthAdjust="spacingAndGlyphs">1.34000</text>
<text x="1590.3" y="130.3" font-size="12" fill="#131722" text-anchor="start" font-weight="normal" textLength="46.3" lengthAdjust="spacingAndGlyphs">1.33000</text>
<text x="1590.3" y="172.4" font-size="12" fill="#131722" text-anchor="start" font-weight="normal" textLength="46.3" lengthAdjust="spacingAndGlyphs">1.32000</text>
<text x="1590.3" y="214.6" font-size="12" fill="#131722" text-anchor="start" font-weight="normal" textLength="46.3" lengthAdjust="spacingAndGlyphs">1.31000</text>
<text x="1590.3" y="256.8" font-size="12" fill="#131722" text-anchor="start" font-weight="normal" textLength="46.3" lengthAdjust="spacingAndGlyphs">1.30000</text>
<text x="1590.3" y="298.9" font-size="12" fill="#131722" text-anchor="start" font-weight="normal" textLength="46.3" lengthAdjust="spacingAndGlyphs">1.29000</text>
<text x="1590.3" y="341.1" font-size="12" fill="#131722" text-anchor="start" font-weight="normal" textLength="46.3" lengthAdjust="spacingAndGlyphs">1.28000</text>
<text x="1590.3" y="383.3" font-size="12" fill="#131722" text-anchor="start" font-weight="normal" textLength="46.3" lengthAdjust="spacingAndGlyphs">1.27000</text>
<text x="1590.3" y="425.5" font-size="12" fill="#131722" text-anchor="start" font-weight="normal" textLength="46.3" lengthAdjust="spacingAndGlyphs">1.26000</text>
<text x="1590.3" y="467.6" font-size="12" fill="#131722" text-anchor="start" font-weight="normal" textLength="46.3" lengthAdjust="spacingAndGlyphs">1.25000</text>
<text x="1590.3" y="509.8" font-size="12" fill="#131722" text-anchor="start" font-weight="normal" textLength="46.3" lengthAdjust="spacingAndGlyphs">1.24000</text>
<text x="1590.3" y="552.0" font-size="12" fill="#131722" text-anchor="start" font-weight="normal" textLength="46.3" lengthAdjust="spacingAndGlyphs">1.23000</text>
<text x="1590.3" y="594.1" font-size="12" fill="#131722" text-anchor="start" font-weight="normal" textLength="46.3" lengthAdjust="spacingAndGlyphs">1.22000</text>
<text x="1590.6" y="605.0" font-size="12" fill="#131722" text-anchor="start" font-weight="normal" textLength="33" lengthAdjust="spacingAndGlyphs">80.00</text>
<text x="1590.6" y="644.5" font-size="12" fill="#131722" text-anchor="start" font-weight="normal" textLength="33" lengthAdjust="spacingAndGlyphs">60.00</text>
<text x="1590.6" y="684.0" font-size="12" fill="#131722" text-anchor="start" font-weight="normal" textLength="33" lengthAdjust="spacingAndGlyphs">40.00</text>
<path d="M1583 124H1641Q1643 124 1643 126V141Q1643 143 1641 143H1583Z" fill="#2a2e39"/><text x="1592" y="137.9" font-size="12" fill="#ffffff" font-weight="normal" textLength="45.5" lengthAdjust="spacingAndGlyphs" stroke="#ffffff" stroke-width="0.3">1.32663</text>
<path d="M1583 142H1641Q1643 142 1643 144V159Q1643 161 1641 161H1583Z" fill="#2a2e39"/><text x="1592" y="155.9" font-size="12" fill="#ffffff" font-weight="normal" textLength="45.5" lengthAdjust="spacingAndGlyphs" stroke="#ffffff" stroke-width="0.3">1.32392</text>
<path d="M1583 206H1641Q1643 206 1643 208V223Q1643 225 1641 225H1583Z" fill="#2a2e39"/><text x="1592" y="219.9" font-size="12" fill="#ffffff" font-weight="normal" textLength="45.5" lengthAdjust="spacingAndGlyphs" stroke="#ffffff" stroke-width="0.3">1.30767</text>
<path d="M1583 224H1641Q1643 224 1643 226V241Q1643 243 1641 243H1583Z" fill="#2a2e39"/><text x="1592" y="237.9" font-size="12" fill="#ffffff" font-weight="normal" textLength="45.5" lengthAdjust="spacingAndGlyphs" stroke="#ffffff" stroke-width="0.3">1.30445</text>
<path d="M1583 273H1641Q1643 273 1643 275V290Q1643 292 1641 292H1583Z" fill="#2a2e39"/><text x="1592" y="286.9" font-size="12" fill="#ffffff" font-weight="normal" textLength="45.5" lengthAdjust="spacingAndGlyphs" stroke="#ffffff" stroke-width="0.3">1.28938</text>
<path d="M1583 291H1641Q1643 291 1643 293V308Q1643 310 1641 310H1583Z" fill="#2a2e39"/><text x="1592" y="304.9" font-size="12" fill="#ffffff" font-weight="normal" textLength="45.5" lengthAdjust="spacingAndGlyphs" stroke="#ffffff" stroke-width="0.3">1.28605</text>
<path d="M1583 327H1641Q1643 327 1643 329V344Q1643 346 1641 346H1583Z" fill="#2a2e39"/><text x="1592" y="340.9" font-size="12" fill="#ffffff" font-weight="normal" textLength="45.5" lengthAdjust="spacingAndGlyphs" stroke="#ffffff" stroke-width="0.3">1.28007</text>
<path d="M1583 358H1641Q1643 358 1643 360V375Q1643 377 1641 377H1583Z" fill="#2a2e39"/><text x="1592" y="371.9" font-size="12" fill="#ffffff" font-weight="normal" textLength="45.5" lengthAdjust="spacingAndGlyphs" stroke="#ffffff" stroke-width="0.3">1.27093</text>
<path d="M1583 476H1641Q1643 476 1643 478V493Q1643 495 1641 495H1583Z" fill="#2a2e39"/><text x="1592" y="489.9" font-size="12" fill="#ffffff" font-weight="normal" textLength="45.5" lengthAdjust="spacingAndGlyphs" stroke="#ffffff" stroke-width="0.3">1.24459</text>
<path d="M1583 538H1641Q1643 538 1643 540V555Q1643 557 1641 557H1583Z" fill="#2a2e39"/><text x="1592" y="551.9" font-size="12" fill="#ffffff" font-weight="normal" textLength="45.5" lengthAdjust="spacingAndGlyphs" stroke="#ffffff" stroke-width="0.3">1.22997</text>
<path d="M1583 255H1641Q1643 255 1643 257V272Q1643 274 1641 274H1583Z" fill="#2196f3"/><text x="1592" y="268.9" font-size="12" fill="#ffffff" font-weight="normal" textLength="45.5" lengthAdjust="spacingAndGlyphs" stroke="#ffffff" stroke-width="0.3">1.29141</text>
<path d="M1583 309H1641Q1643 309 1643 311V326Q1643 328 1641 328H1583Z" fill="#26c6da"/><text x="1592" y="322.9" font-size="12" fill="#131722" font-weight="normal" textLength="45.5" lengthAdjust="spacingAndGlyphs">1.28078</text>
<path d="M1583 376H1641Q1643 376 1643 378V393Q1643 395 1641 395H1583Z" fill="#ff6d00"/><text x="1592" y="389.9" font-size="12" fill="#ffffff" font-weight="normal" textLength="45.5" lengthAdjust="spacingAndGlyphs" stroke="#ffffff" stroke-width="0.3">1.26852</text>
<path d="M1583 448H1641Q1643 448 1643 450V465Q1643 467 1641 467H1583Z" fill="#089981"/><text x="1592" y="461.9" font-size="12" fill="#ffffff" font-weight="normal" textLength="45.5" lengthAdjust="spacingAndGlyphs" stroke="#ffffff" stroke-width="0.3">1.25129</text>
<path d="M1583 662H1627Q1629 662 1629 664V679Q1629 681 1627 681H1583Z" fill="#7e57c2"/><text x="1592" y="675.9" font-size="12" fill="#ffffff" font-weight="bold" textLength="32.5" lengthAdjust="spacingAndGlyphs" stroke="#ffffff" stroke-width="0.3">44.12</text>
<text x="76.5" y="731.5" font-size="12" fill="#131722" text-anchor="middle" font-weight="bold" textLength="29" lengthAdjust="spacingAndGlyphs">2024</text>
<text x="201.5" y="731.5" font-size="12" fill="#131722" text-anchor="middle" font-weight="normal">Feb</text>
<text x="316.5" y="731.5" font-size="12" fill="#131722" text-anchor="middle" font-weight="normal">Mar</text>
<text x="431.5" y="731.5" font-size="12" fill="#131722" text-anchor="middle" font-weight="normal">Apr</text>
<text x="552.5" y="731.5" font-size="12" fill="#131722" text-anchor="middle" font-weight="normal">May</text>
<text x="677.5" y="731.5" font-size="12" fill="#131722" text-anchor="middle" font-weight="normal">Jun</text>
<text x="787.5" y="731.5" font-size="12" fill="#131722" text-anchor="middle" font-weight="normal">Jul</text>
<text x="913.5" y="731.5" font-size="12" fill="#131722" text-anchor="middle" font-weight="normal">Aug</text>
<text x="1033.5" y="731.5" font-size="12" fill="#131722" text-anchor="middle" font-weight="normal">Sep</text>
<text x="1148.5" y="731.5" font-size="12" fill="#131722" text-anchor="middle" font-weight="normal">Oct</text>
<text x="1274.5" y="731.5" font-size="12" fill="#131722" text-anchor="middle" font-weight="normal">Nov</text>
<text x="1389.5" y="731.5" font-size="12" fill="#131722" text-anchor="middle" font-weight="normal">Dec</text>
<text x="1509.5" y="731.5" font-size="12" fill="#131722" text-anchor="middle" font-weight="bold" textLength="29" lengthAdjust="spacingAndGlyphs">2025</text>
<text x="18.0" y="30.3" font-size="13" fill="#131722" textLength="73.4" lengthAdjust="spacingAndGlyphs">GBP/USD, 1D</text>
<text x="99.8" y="30.3" font-size="13" fill="#131722" textLength="8.1" lengthAdjust="spacingAndGlyphs">O</text>
<text x="109.0" y="30.3" font-size="13" fill="#089981" textLength="43.3" lengthAdjust="spacingAndGlyphs">1.24232</text>
<text x="160.7" y="30.3" font-size="13" fill="#131722" textLength="7.4" lengthAdjust="spacingAndGlyphs">H</text>
<text x="169.2" y="30.3" font-size="13" fill="#089981" textLength="42.3" lengthAdjust="spacingAndGlyphs">1.25511</text>
<text x="220.6" y="30.3" font-size="13" fill="#131722" textLength="5.2" lengthAdjust="spacingAndGlyphs">L</text>
<text x="226.7" y="30.3" font-size="13" fill="#089981" textLength="43.3" lengthAdjust="spacingAndGlyphs">1.24141</text>
<text x="278.2" y="30.3" font-size="13" fill="#131722" textLength="7.6" lengthAdjust="spacingAndGlyphs">C</text>
<text x="286.7" y="30.3" font-size="13" fill="#089981" textLength="43.3" lengthAdjust="spacingAndGlyphs">1.25129</text>
<text x="338.4" y="30.3" font-size="13" fill="#089981" textLength="101.6" lengthAdjust="spacingAndGlyphs">+0.00862 (+0.69%)</text>
<text x="18.0" y="48.3" font-size="13" fill="#131722" textLength="251.7" lengthAdjust="spacingAndGlyphs">Moving Average Triple (50, 100, 200, Simple)</text>
<text x="277.5" y="48.3" font-size="13" fill="#ff6d00" textLength="44.0" lengthAdjust="spacingAndGlyphs">1.26852</text>
<text x="330" y="48.3" font-size="13" fill="#2196f3" textLength="43.0" lengthAdjust="spacingAndGlyphs">1.29141</text>
<text x="381.7" y="48.3" font-size="13" fill="#26c6da" textLength="43.7" lengthAdjust="spacingAndGlyphs">1.28078</text>
<text x="18.0" y="616.5" font-size="13" fill="#131722" textLength="43.0" lengthAdjust="spacingAndGlyphs">RSI (14)</text>
<text x="69" y="616.5" font-size="13" fill="#7e57c2" textLength="30.8" lengthAdjust="spacingAndGlyphs">44.12</text>
<text x="33.8" y="765.6" font-size="13.5" fill="#131722" textLength="74.5" lengthAdjust="spacingAndGlyphs">TradingView</text>
</g>
<g fill="#131722" transform="translate(10.2,755.1) scale(0.565)"><path d="M14 18H7V7H0V0h14z"/><circle cx="20" cy="3.5" r="3.5"/><path d="M28 18h-8l7.5-18h8z"/></g></svg></body></html>
